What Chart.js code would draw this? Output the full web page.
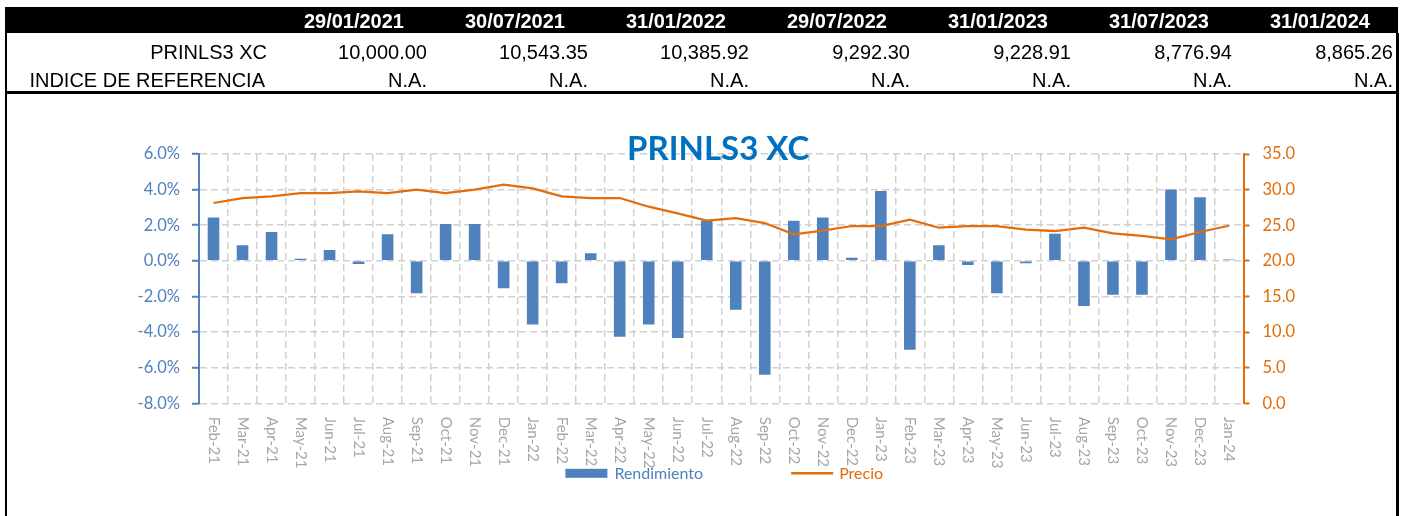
<!DOCTYPE html>
<html>
<head>
<meta charset="utf-8">
<script src="https://cdn.jsdelivr.net/npm/chart.js@4.4.1/dist/chart.umd.min.js"></script>
<style>
  html, body { margin: 0; padding: 0; background: #fff; }
  #wrap { position: relative; width: 1411px; height: 516px; overflow: hidden; }
  #grafico { position: absolute; left: 0; top: 0; }
  .tabla { position: absolute; left: 0; top: 0; width: 1411px; height: 95px; font-family: "Liberation Sans", Arial, sans-serif; }
  .cab { position: absolute; left: 5px; top: 7px; width: 1393px; height: 26px; background: #000; }
  .celda { position: absolute; white-space: nowrap; font-size: 20px; line-height: 24px; height: 24px; color: #000; }
  .celda.dia { color: #fff; font-weight: bold; }
  .raya { position: absolute; background: #000; }
</style>
</head>
<body>
<div id="wrap">
  <canvas id="grafico" width="1411" height="516"></canvas>
  <div class="tabla" id="tabla"></div>
  <div class="raya" style="left:5px;top:33px;width:2px;height:483px"></div>
  <div class="raya" style="left:1396px;top:33px;width:3px;height:483px"></div>
  <div class="raya" style="left:5px;top:91px;width:1394px;height:3px"></div>
</div>
<script>
/* Cuadro de fechas + gráfico de rendimiento mensual y precio */

const TITULO = "PRINLS3 XC";

// fechas de corte y valores de la tabla superior
const fechasCorte = ["29/01/2021", "30/07/2021", "31/01/2022", "29/07/2022", "31/01/2023", "31/07/2023", "31/01/2024"];
const valorFondo = ["10,000.00", "10,543.35", "10,385.92", "9,292.30", "9,228.91", "8,776.94", "8,865.26"];
const valorIndice = ["N.A.", "N.A.", "N.A.", "N.A.", "N.A.", "N.A.", "N.A."];
const filas = ["PRINLS3 XC", "INDICE DE REFERENCIA"];

const meses = ["Feb-21", "Mar-21", "Apr-21", "May-21", "Jun-21", "Jul-21", "Aug-21", "Sep-21", "Oct-21", "Nov-21", "Dec-21",
  "Jan-22", "Feb-22", "Mar-22", "Apr-22", "May-22", "Jun-22", "Jul-22", "Aug-22", "Sep-22", "Oct-22", "Nov-22", "Dec-22",
  "Jan-23", "Feb-23", "Mar-23", "Apr-23", "May-23", "Jun-23", "Jul-23", "Aug-23", "Sep-23", "Oct-23", "Nov-23", "Dec-23",
  "Jan-24"];

// rendimiento mensual en %
const rendimiento = [2.44, 0.87, 1.62, 0.12, 0.61, -0.18, 1.50, -1.82, 2.07, 2.07, -1.54,
  -3.57, -1.26, 0.42, -4.26, -3.57, -4.33, 2.25, -2.75, -6.40, 2.25, 2.44, 0.18,
  3.92, -4.99, 0.87, -0.24, -1.82, -0.14, 1.52, -2.54, -1.90, -1.90, 4.01, 3.57,
  0.08];

// precio de cierre
const precio = [28.12, 28.82, 29.06, 29.52, 29.52, 29.76, 29.52, 29.99, 29.52, 29.99, 30.69,
  30.18, 29.06, 28.82, 28.82, 27.60, 26.67, 25.64, 26.01, 25.31, 23.73, 24.23, 24.89,
  24.89, 25.78, 24.65, 24.89, 24.89, 24.37, 24.19, 24.65, 23.87, 23.49, 23.02, 24.05,
  24.93];

const AZUL = "#4F81BD";
const NARANJA = "#E46C0A";
const GRIS_TXT = "#A6A6A6";
const GRIS_REJ = "#D0D0D0";
const AZUL_TIT = "#0070C0";

// ---- tabla ----
function celda(txt, derecha, centroY, clase) {
  const d = document.createElement("div");
  d.className = "celda" + (clase ? " " + clase : "");
  d.textContent = txt;
  d.style.top = (centroY - 12) + "px";
  d.style.right = (1411 - derecha) + "px";
  document.getElementById("tabla").appendChild(d);
}

function armarTabla() {
  const t = document.getElementById("tabla");
  const c = document.createElement("div");
  c.className = "cab";
  t.appendChild(c);
  celda(filas[0], 267, 52);
  celda(filas[1], 265, 80);
  fechasCorte.forEach(function (f, i) {
    const der = 427 + i * 161;
    celda(f, der - 23, 21, "dia");
    celda(valorFondo[i], der, 52);
    celda(valorIndice[i], der, 80);
  });
}

// ---- rótulos de meses, título y leyenda ----
const extras = {
  id: "extras",
  afterDraw(chart) {
    const { ctx, chartArea } = chart;
    const x = chart.scales.x;
    ctx.save();

    ctx.font = "15px Lato";
    ctx.fillStyle = GRIS_TXT;
    ctx.textAlign = "left";
    ctx.textBaseline = "middle";
    meses.forEach(function (m, i) {
      ctx.save();
      ctx.translate(x.getPixelForValue(i), chartArea.bottom + 13.5);
      ctx.rotate(Math.PI / 2);
      ctx.fillText(m, 0, 0);
      ctx.restore();
    });

    const medio = (chartArea.left + chartArea.right) / 2;
    ctx.font = "bold 33px Lato";
    ctx.fillStyle = AZUL_TIT;
    ctx.textAlign = "center";
    ctx.textBaseline = "alphabetic";
    ctx.fillText(TITULO, medio - 3, chartArea.top + 6);

    // leyenda
    const ds = chart.data.datasets;
    const barra = ds[1], linea = ds[0];
    ctx.font = "16px Lato";
    ctx.textAlign = "left";
    ctx.textBaseline = "middle";
    const w1 = ctx.measureText(barra.label).width;
    const w2 = ctx.measureText(linea.label).width;
    const total = 42 + 7 + w1 + 88 + 42 + 6 + w2;
    let lx = medio + 3 - total / 2;
    const ly = chartArea.bottom + 70;
    ctx.fillStyle = barra.backgroundColor;
    ctx.fillRect(lx, ly - 4.5, 42, 9);
    ctx.fillText(barra.label, lx + 49, ly + 1);
    lx += 49 + w1 + 88;
    ctx.strokeStyle = linea.borderColor;
    ctx.lineWidth = 2.5;
    ctx.beginPath();
    ctx.moveTo(lx, ly);
    ctx.lineTo(lx + 42, ly);
    ctx.stroke();
    ctx.fillStyle = linea.borderColor;
    ctx.fillText(linea.label, lx + 48, ly + 1);

    ctx.restore();
  }
};

function dibujar() {
  const ctx = document.getElementById("grafico");
  new Chart(ctx, {
    data: {
      labels: meses,
      datasets: [
        {
          type: "line",
          label: "Precio",
          data: precio,
          yAxisID: "y1",
          borderColor: NARANJA,
          borderWidth: 2.25,
          pointRadius: 0,
          tension: 0,
          order: 0
        },
        {
          type: "bar",
          label: "Rendimiento",
          data: rendimiento,
          yAxisID: "y",
          backgroundColor: AZUL,
          barPercentage: 0.4,
          categoryPercentage: 1,
          order: 1
        }
      ]
    },
    options: {
      responsive: false,
      animation: false,
      devicePixelRatio: 1,
      layout: { padding: { top: 154, bottom: 52.7, left: 0, right: 0 } },
      plugins: { legend: { display: false }, tooltip: { enabled: false } },
      scales: {
        x: {
          offset: true,
          ticks: { display: false },
          grid: { offset: true, color: GRIS_REJ, lineWidth: 1.5, drawTicks: false },
          border: { display: false, dash: [7, 4] },
          afterFit: function (s) { s.height = 60; }
        },
        y: {
          position: "left",
          min: -8,
          max: 6,
          ticks: {
            stepSize: 2,
            color: AZUL,
            padding: 12,
            font: { family: "Lato", size: 16.5 },
            callback: function (v) { return v.toFixed(1) + "%"; }
          },
          grid: { color: GRIS_REJ, lineWidth: 1.5, tickColor: AZUL, tickLength: 7, tickWidth: 2, tickBorderDash: [] },
          border: { display: true, color: AZUL, width: 2, dash: [7, 4] },
          afterFit: function (s) { s.width = 199; }
        },
        y1: {
          position: "right",
          min: 0,
          max: 35,
          ticks: {
            stepSize: 5,
            color: NARANJA,
            padding: 13,
            font: { family: "Lato", size: 16.5 },
            callback: function (v) { return v.toFixed(1); }
          },
          grid: { drawOnChartArea: false, tickColor: NARANJA, tickLength: 6, tickWidth: 2, tickBorderDash: [] },
          border: { display: true, color: NARANJA, width: 2 },
          afterFit: function (s) { s.width = 167.5; }
        }
      }
    },
    plugins: [extras]
  });
}

armarTabla();
const fuentes = ["15px Lato", "16px Lato", "bold 33px Lato"].map(function (f) { return document.fonts.load(f); });
Promise.all(fuentes).then(dibujar, dibujar);
</script>
</body>
</html>
